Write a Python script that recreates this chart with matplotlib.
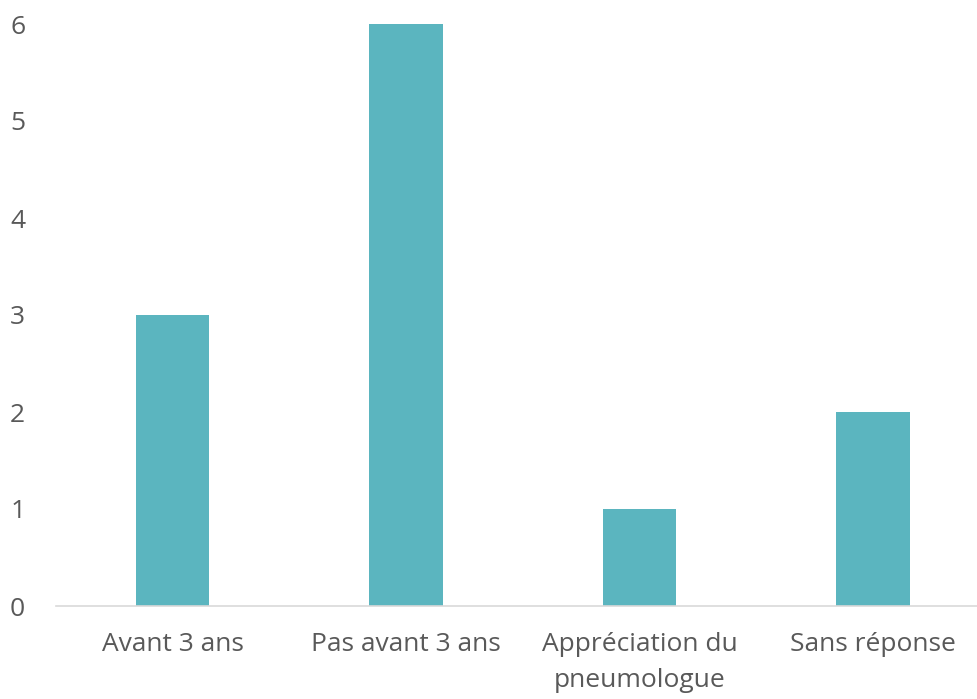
import matplotlib
matplotlib.use("Agg")
import matplotlib.pyplot as plt

categories = ["Avant 3 ans", "Pas avant 3 ans", "Appréciation du\npneumologue", "Sans réponse"]
values = [3, 6, 1, 2]
yticks = [0, 1, 2, 3, 4, 5, 6]

plt.rcParams['font.family'] = ['Open Sans', 'DejaVu Sans']
fig = plt.figure(figsize=(9.78, 6.99), dpi=100)
ax = fig.add_axes([55.75/978, 93/699, 934/978, 582/699])
x = list(range(len(categories)))
ax.bar(x, values, width=0.313, color="#5BB5BF", zorder=2)
ax.set_xlim(-0.5, len(categories) - 0.5)
ax.set_ylim(0, 6)
ax.set_yticks(yticks)
ax.set_yticklabels([str(v) for v in yticks])
ax.set_xticks(x)
ax.set_xticklabels(categories, linespacing=1.55)
for s in ["top", "right", "left"]:
    ax.spines[s].set_visible(False)
ax.spines["bottom"].set_color("#D9D9D9")
ax.spines["bottom"].set_linewidth(1.2)
ax.tick_params(axis="both", length=0, colors="#595959", labelsize=19)
ax.tick_params(axis="y", pad=22)
ax.tick_params(axis="x", pad=19)
fig.savefig("out.png", dpi=100)
